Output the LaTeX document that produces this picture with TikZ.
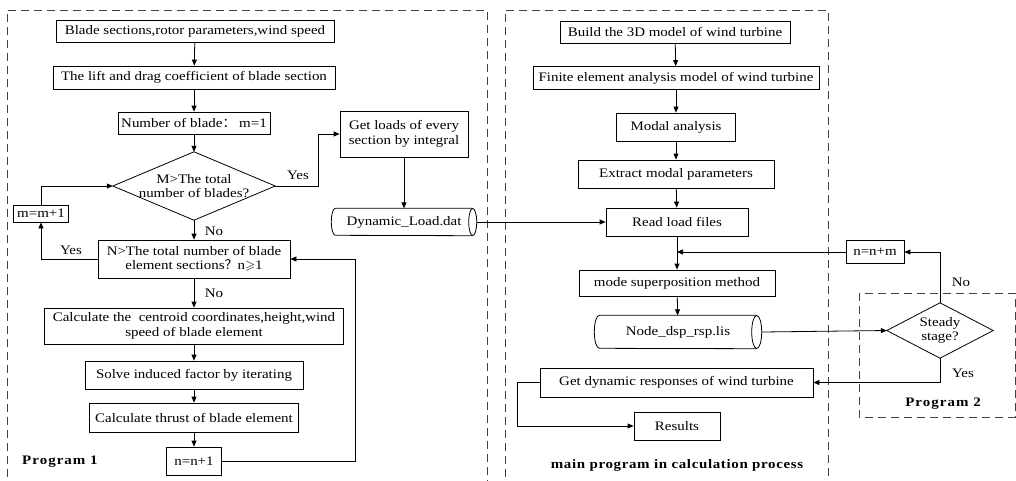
\documentclass[tikz,border=0pt]{standalone}
\usepackage{fontspec}
\setmainfont{Liberation Serif}[FakeStretch=1.15]
\newfontfamily\cjk{Noto Sans CJK SC}
\usepackage{amssymb}
\usetikzlibrary{arrows.meta}
\begin{document}
\begin{tikzpicture}[x=1pt,y=-1pt,
  font=\fontsize{13}{14.5}\selectfont,
  box/.style={draw, line width=0.8pt, inner sep=0pt, align=center},
  dec/.style={inner sep=0pt, align=center},
  arr/.style={-{Triangle[length=6pt,width=5pt]}, line width=0.8pt},
  ln/.style={line width=0.8pt},
  frame/.style={draw=black!75, dash pattern=on 8pt off 5pt, line width=0.8pt},
  lbl/.style={inner sep=0pt},
  ttl/.style={inner sep=0pt, font=\fontsize{13}{14.5}\selectfont\bfseries}
  ]
\useasboundingbox (0,0) rectangle (1016,480);
% frames
\draw[frame] (7,490) -- (7,10) -- (487,10) -- (487,490);
\draw[frame] (505,490) -- (505,10) -- (828,10) -- (828,490);
\draw[frame] (859,293) rectangle (1015,417);
% Program 1
\node[box, minimum width=278, minimum height=22] (b1) at (195,31) {Blade sections,rotor parameters,wind speed};
\node[box, minimum width=282, minimum height=23] (b2) at (194,77.5) {The lift and drag coefficient of blade section};
\node[box, minimum width=152, minimum height=22] (b3) at (194,123) {Number of blade{\cjk ：} m=1};
\node[dec, minimum width=162, minimum height=68] (d1) at (194,186) {M>The total\\number of blades?};
\draw[ln] (d1.west) -- (d1.north) -- (d1.east) -- (d1.south) -- cycle;
\node[box, minimum width=55, minimum height=17] (m1) at (41,213.5) {m=m+1};
\node[box, minimum width=192, minimum height=38] (nb) at (194,259) {N>The total number of blade\\element sections{\cjk ？}n$\geqslant$1};
\node[box, minimum width=299, minimum height=36] (c1) at (194,326) {Calculate the \ centroid coordinates,height,wind\\speed of blade element};
\node[box, minimum width=218, minimum height=28] (s1) at (194,375) {Solve induced factor by iterating};
\node[box, minimum width=209, minimum height=29] (t1) at (194,417.5) {Calculate thrust of blade element};
\node[box, minimum width=55, minimum height=28] (n1) at (194,461) {n=n+1};
\node[box, minimum width=128, minimum height=46] (g1) at (404,134) {Get loads of every\\section by integral};
\node[dec, minimum width=145, minimum height=27] (dyn) at (404,222) {Dynamic\_Load.dat};
\draw[ln] ([xshift=-4pt]dyn.north east) -- ([xshift=4pt]dyn.north west)
  arc[start angle=270, end angle=90, x radius=4, y radius=13.5]
  -- ([xshift=-4pt]dyn.south east);
\draw[ln] ([xshift=-4pt]dyn.east) ellipse [x radius=4, y radius=13.5];
\node[ttl, anchor=west] (p1) at (22,462) {\addfontfeatures{LetterSpace=8}Program 1};
\node[lbl] (lno1) at (214,231) {No};
\node[lbl] (lyes1) at (71,250) {Yes};
\node[lbl] (lyes2) at (298,175) {Yes};
\node[lbl] (lno2) at (214,293) {No};
\coordinate (yesr) at (318,186);
\coordinate (loopr) at (355,461);
\draw[arr] (b1) -- (b2);
\draw[arr] (b2) -- (b3);
\draw[arr] (b3) -- (d1.north);
\draw[arr] (d1.south) -- (nb);
\draw[arr] (m1.north) |- (d1.west);
\draw[arr] (nb.west) -| (m1.south);
\draw[arr] (d1.east) -- (yesr) |- (g1.west);
\draw[arr] (g1) -- (dyn);
\draw[arr] (nb) -- (c1);
\draw[arr] (c1) -- (s1);
\draw[arr] (s1) -- (t1);
\draw[arr] (t1) -- (n1);
\draw[arr] (n1.east) -- (loopr) |- (nb.east);
% main program
\node[box, minimum width=230, minimum height=22] (mb) at (675,32) {Build the 3D model of wind turbine};
\node[box, minimum width=286, minimum height=23] (mf) at (676,78) {Finite element analysis model of wind turbine};
\node[box, minimum width=119, minimum height=28] (mm) at (676,127) {Modal analysis};
\node[box, minimum width=196, minimum height=28] (me) at (676,174) {Extract modal parameters};
\node[box, minimum width=142, minimum height=28] (mr) at (677,222) {Read load files};
\node[box, minimum width=196, minimum height=26] (ms) at (677,283) {mode superposition method};
\node[dec, minimum width=167, minimum height=33] (nd) at (678,332) {Node\_dsp\_rsp.lis};
\draw[ln] ([xshift=-5pt]nd.north east) -- ([xshift=5pt]nd.north west)
  arc[start angle=270, end angle=90, x radius=5, y radius=16.5]
  -- ([xshift=-5pt]nd.south east);
\draw[ln] ([xshift=-5pt]nd.east) ellipse [x radius=5, y radius=16.5];
\node[box, minimum width=273, minimum height=29] (mg) at (676.5,382.5) {Get dynamic responses of wind turbine};
\node[box, minimum width=86, minimum height=28] (res) at (677,426) {Results};
\node[ttl] (pm) at (677,465) {\addfontfeatures{LetterSpace=5}main program in calculation process};
\coordinate (jn) at (677,252);
\coordinate (rl) at (517,426);
\draw[arr] (mb) -- (mf);
\draw[arr] (mf) -- (mm);
\draw[arr] (mm) -- (me);
\draw[arr] (me) -- (mr);
\draw[arr] (dyn.east) -- (mr.west);
\draw[arr] (mr) -- (ms);
\draw[arr] (ms) -- (nd);
\draw[ln] (mg.west) -| (rl);
\draw[arr] (rl) -- (res.west);
% Program 2
\node[dec, minimum width=106, minimum height=55] (d2) at (940,330.5) {Steady\\stage?};
\draw[ln] (d2.west) -- (d2.north) -- (d2.east) -- (d2.south) -- cycle;
\node[box, minimum width=58, minimum height=23] (nm) at (875,252) {n=n+m};
\node[lbl] (lno3) at (961,282) {No};
\node[lbl] (lyes3) at (963,373) {Yes};
\node[ttl] (p2) at (943,404) {\addfontfeatures{LetterSpace=8}Program 2};
\draw[arr] (nd.east) -- (d2.west);
\draw[arr] (d2.north) |- (nm.east);
\draw[arr] (nm.west) -- (jn);
\draw[arr] (d2.south) |- (mg.east);
\end{tikzpicture}
\end{document}
